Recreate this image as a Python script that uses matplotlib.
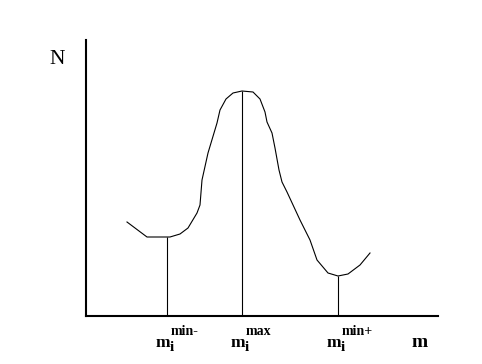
import matplotlib
matplotlib.use("Agg")
import matplotlib.pyplot as plt

# distribution curve N(m)
m_vals = [41, 61, 84, 94, 102, 111, 114, 116, 122, 131, 134, 140, 147, 156,
          167, 174, 179, 181, 186, 189, 193, 196, 201, 214, 224, 231, 242,
          252, 262, 274, 284]
n_vals = [94, 79, 79, 82, 88, 103, 111, 136, 163, 193, 206, 217, 223, 225,
          224, 217, 204, 194, 183, 168, 146, 134, 124, 96, 76, 56, 43,
          40, 42, 51, 63]

# marker positions (min-, max, min+) and their curve heights
mark_m = [81, 156, 252]
mark_n = [79, 225, 40]
mark_sup = ['min-', 'max', 'min+']

plt.rcParams['font.family'] = ['Liberation Serif', 'DejaVu Serif']

fig = plt.figure(figsize=(4.82, 3.64), dpi=100)
ax = fig.add_axes([86 / 482, 48 / 364, 352 / 482, 276 / 364])
ax.set_xlim(0, 352)
ax.set_ylim(0, 276)

ax.plot(m_vals, n_vals, color='black', lw=0.8)
ax.vlines(mark_m, 0, mark_n, color='black', lw=0.8)

for s in ('top', 'right'):
    ax.spines[s].set_visible(False)
for s in ('left', 'bottom'):
    ax.spines[s].set_linewidth(1.5)
ax.set_xticks([])
ax.set_yticks([])

ax.text(-37, 252, 'N', fontsize=15.5, ha='left', va='baseline', clip_on=False)
ax.text(326, -31, 'm', fontsize=14, fontweight='bold', ha='left',
        va='baseline', clip_on=False)

# m_i^{...} labels under each marker line
for x, sup in zip(mark_m, mark_sup):
    x0 = x - 11
    ax.text(x0, -31, 'm', fontsize=12.5, fontweight='bold', ha='left',
            va='baseline', clip_on=False)
    ax.text(x0 + 14, -35, 'i', fontsize=11, fontweight='bold', ha='left',
            va='baseline', clip_on=False)
    ax.text(x0 + 15, -19, sup, fontsize=10, fontweight='bold', ha='left',
            va='baseline', clip_on=False)

fig.savefig('out.png', dpi=100)
